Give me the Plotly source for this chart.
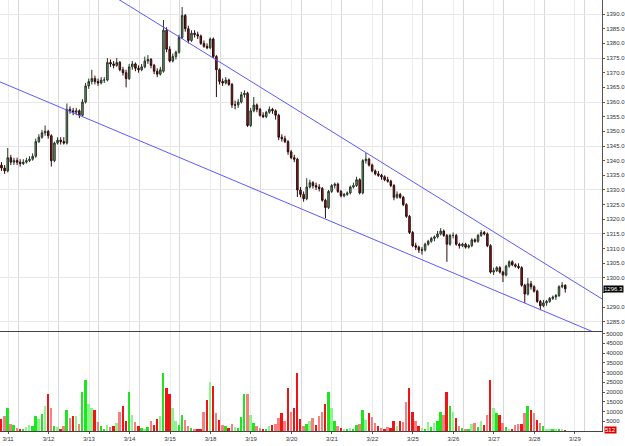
import plotly.graph_objects as go

# ---------------- data ----------------
day_labels = ["3/11", "3/12", "3/13", "3/14", "3/15", "3/18", "3/19", "3/20",
              "3/21", "3/22", "3/25", "3/26", "3/27", "3/28", "3/29"]
day_start_bar = [2.1 + 13 * k for k in range(len(day_labels))]

open_ = [1338.5,1337.5,1336.5,1341,1339.5,1340,1339.5,1339,1339.5,1340,1340.5,1341.5,1346.5,1348,1349.5,1350,1348.5,1340,1346,1347,
         1346.5,1346,1357.5,1357,1356.5,1357,1355.5,1360,1365.5,1367,1368,1367,1366.5,1367.5,1367.5,1373.5,1373,1372.5,1373.5,1371,
         1370,1368,1372,1373,1371.5,1371,1372,1374,1374.5,1372.5,1370.5,1369.5,1370.5,1384.5,1378,1374,1375.5,1377,1382,1389.5,
         1385,1381,1383.5,1383,1382.5,1380,1379,1378.5,1381.5,1375.5,1371,1367,1366.5,1367.5,1366,1359,1359,1360,1362.5,1363,
         1352,1357,1359,1357.5,1355.5,1355,1356.5,1357.5,1357,1355.5,1348,1347.5,1346.5,1343,1341,1340.5,1330,1328.5,1327,1331,
         1332.5,1331.5,1331,1330.5,1326.5,1324,1329.5,1331.5,1332,1329.5,1328,1328.5,1329,1331,1331.5,1333.5,1329,1340,1340.5,1338.5,
         1336.5,1335.5,1335,1334.5,1333.5,1333,1331.5,1327.5,1328.5,1327.5,1325,1321,1315.5,1311,1310.5,1309.5,1309.5,1311.5,1312.5,1313.5,
         1314,1315,1316,1314.5,1311.5,1314.5,1314.5,1311.5,1311,1311.5,1310.5,1311,1313,1312.5,1314.5,1315.5,1315,1311,1302,1302.5,
         1303.5,1302,1301,1304,1305.5,1304.5,1304,1303.5,1297.5,1294.5,1298,1297,1295.5,1292,1290.5,1291.5,1292,1293,1293.5,1294,
         1297,1297.5]
high = [1339.5,1338.5,1344.3,1342,1341,1341,1340.5,1340.5,1341,1341.5,1342.5,1347.5,1349,1350.5,1352,1350.5,1349,1346.5,1348,1348,
        1348,1359.5,1358.5,1358,1358,1357.5,1361,1366.5,1368,1371,1369,1368,1368.5,1368.5,1375,1374.5,1374,1375,1374,1372,
        1371,1373,1374,1373.5,1372.5,1373,1375.5,1376,1375,1373,1371.5,1372,1388,1385.5,1379,1376.5,1377.5,1383,1392.4,1390,
        1386,1384.5,1384.5,1384,1383,1381,1380,1382,1382,1376,1371.5,1368,1368.5,1368,1366.5,1360.5,1361,1363.5,1364,1363.5,
        1358,1361.7,1359.5,1358,1356.5,1357,1358.5,1358,1357.5,1356,1349,1348.5,1347,1343.6,1342,1341,1331,1329.5,1334,1333.5,
        1333,1332.5,1332,1331,1327,1330,1332,1332.5,1332.5,1330,1329,1329.5,1331.5,1332.5,1334.5,1334,1340.5,1342.6,1341,1339,
        1337,1336.5,1335.5,1335,1334.5,1333.5,1332,1329.5,1329,1328,1325.5,1321.5,1316,1312,1311,1310.5,1312,1313,1314,1314.5,
        1316,1317,1316.5,1315,1315,1315.5,1315,1312,1312,1312,1311.5,1313.5,1313.5,1315,1316.3,1316,1315.5,1311.5,1303.5,1304,
        1304,1302.5,1304.5,1306,1306,1305,1305,1304,1298,1300,1299,1297.5,1296,1292.5,1292.5,1292.5,1293.5,1294,1294.5,1297.5,
        1298.6,1297.8]
low = [1336.5,1335.5,1336,1338.5,1338.5,1338.5,1338,1338.5,1339,1339.5,1340,1341,1346,1347.5,1348.5,1347.5,1338,1339.5,1345.5,1345.5,
       1345.5,1345.5,1356,1355.5,1355.5,1354.5,1355,1359.5,1364.5,1366,1366,1365.5,1366,1366.5,1367,1372,1371.5,1372,1370.5,1369,
       1365,1367.5,1371,1370.5,1370,1370.5,1371.5,1373,1371.5,1369.5,1368.5,1369,1370,1377,1373.5,1373.5,1374.5,1376.5,1381.5,1384,
       1380,1380.5,1382,1381.5,1379.5,1378.5,1378,1378,1375,1361.7,1366,1365.5,1366,1365.5,1358,1357.5,1358,1359.5,1361.5,1351.5,
       1351.5,1356.5,1356.5,1355,1354.5,1354.5,1356,1356,1354,1347,1346.5,1346,1342,1340.5,1339.5,1327.6,1327.5,1326,1326.5,1330.5,
       1330.5,1330,1329.5,1326,1320.4,1323.5,1329,1330.5,1329,1327.5,1327.5,1328,1328.5,1330.5,1331,1328.5,1328.5,1339,1338,1336,
       1335,1334.5,1333.5,1333,1332.5,1331,1326.5,1327,1327,1324.5,1320.5,1315,1310.5,1309.5,1308.5,1308,1309,1311,1312,1312.5,
       1313.5,1314.5,1314,1305.5,1311,1313.5,1311,1310,1310.5,1310,1310,1310.5,1312,1312,1314,1314.5,1310.5,1301.5,1301,1302,
       1301.5,1298.6,1300.5,1303.5,1304,1303.5,1303,1297,1291.5,1294,1296,1295,1291.5,1289,1290,1290.5,1291.5,1292.5,1292.5,1293.5,
       1296.5,1295]
close = [1337.5,1336.5,1341,1339.5,1340,1339.5,1339,1339.5,1340,1340.5,1341.5,1346.5,1348,1349.5,1350,1348.5,1340,1346,1347,1346.5,
         1346,1357.5,1357,1356.5,1357,1355.5,1360,1365.5,1367,1368,1367,1366.5,1367.5,1367.5,1373.5,1373,1372.5,1373.5,1371,1370,
         1368,1372,1373,1371.5,1371,1372,1374,1374.5,1372.5,1370.5,1369.5,1371,1384.5,1378,1374,1375.5,1377,1382,1389.5,1385,
         1381,1383.5,1383,1382.5,1380,1379,1378.5,1381.5,1375.5,1371,1367,1366.5,1367.5,1366,1359,1359,1360,1362.5,1363,1352,
         1357,1359,1357.5,1355.5,1355,1356.5,1357.5,1357,1355.5,1348,1347.5,1346.5,1343,1341,1340.5,1330,1328.5,1327,1331,1332.5,
         1331.5,1331,1330.5,1326.5,1324,1329.5,1331.5,1332,1329.5,1328,1328.5,1329,1331,1331.5,1333.5,1329,1340,1340.5,1338.5,1336.5,
         1335.5,1335,1334.5,1333.5,1333,1331.5,1327.5,1328.5,1327.5,1325,1321,1315.5,1311,1310.5,1309.5,1309.5,1311.5,1312.5,1313.5,1314,
         1315,1316,1314.5,1311.5,1314.5,1314.5,1311.5,1311,1311.5,1310.5,1311,1313,1312.5,1314.5,1315.5,1315,1311,1302,1302.5,1303.5,
         1302,1301,1304,1305.5,1304.5,1304,1303.5,1297.5,1294.5,1298,1297,1295.5,1292,1290.5,1291.5,1292,1293,1293.5,1294,1297,
         1297.5,1296.3]
volume = [6000,7500,12000,3500,3000,1500,1000,800,1800,3000,2500,7800,6000,8500,13000,19000,12000,2500,2000,800,
          2500,11000,6500,7500,7500,3500,20000,26000,14000,12000,11000,4500,2500,1200,3000,2000,2500,4000,10000,13000,
          5000,20000,8000,4500,2500,1500,1200,2000,5000,3000,6000,7500,30000,22000,19000,12000,5000,3000,8000,5500,
          2500,1500,1000,1200,1000,10000,16000,25000,23000,9000,5500,3000,2500,1500,3500,2000,1500,7000,19000,19000,
          8000,4000,2500,1500,1200,1000,2500,3000,3500,6500,9000,5000,22000,10000,12000,30000,6000,2500,3500,5000,
          6500,3000,7800,10000,14000,20000,12000,5000,2500,1500,1200,1000,1500,1200,3000,3500,11000,5500,9000,7000,
          4000,2500,1500,1000,2000,1500,5000,2500,5000,4500,15000,22000,10000,5000,2500,1500,1000,4500,2000,4000,
          5000,10000,8000,20000,13000,10000,6500,2500,1500,1000,800,3500,4000,2000,5000,3000,8000,26000,12000,9000,
          8000,4000,2000,1200,800,3000,3500,3500,9000,13000,11000,9000,5500,4000,2500,1200,800,700,900,800,
          600,512]
vol_light = [0,1,0,1,0,1,0,0,1,1,0,0,1,0,1,0,1,0,1,0,1,0,1,0,1,1,0,0,1,1,0,1,0,0,1,1,0,1,1,0,
             0,0,1,1,0,0,1,0,1,0,0,1,0,0,0,1,1,0,0,1,1,0,1,0,0,1,0,1,0,1,0,1,0,0,1,1,0,0,0,1,
             1,0,1,1,0,0,1,0,1,1,0,1,0,1,0,0,0,1,0,1,1,0,1,1,0,0,1,0,1,0,1,0,1,0,0,1,0,1,0,1,
             1,0,1,0,1,0,0,1,0,1,1,0,0,1,0,1,0,1,0,1,0,0,1,0,0,1,0,1,0,1,0,1,1,0,1,0,1,0,1,0,
             0,1,0,1,0,1,1,0,1,0,0,1,0,1,0,1,1,0,1,0,1,0]

# trend line anchor points (bar index, price)
upper_x = [20.0, 200.0]
upper_y = [1406.6, 1288.1]
lower_x = [-5.0, 200.0]
lower_y = [1368.9, 1277.1]

last_price = 1296.3
last_volume = 512

# ---------------- figure ----------------
n = len(close)
bars = list(range(n))

vcolors = []
for o, c, lt in zip(open_, close, vol_light):
    up = c >= o
    if up:
        vcolors.append("#8cf58c" if lt else "#1ee61e")
    else:
        vcolors.append("#f77f7f" if lt else "#f01414")

fig = go.Figure()
fig.add_trace(go.Candlestick(
    x=bars, open=open_, high=high, low=low, close=close,
    increasing=dict(fillcolor="#739f73", line=dict(color="#263626", width=1)),
    decreasing=dict(fillcolor="#921f1f", line=dict(color="#2e0a0a", width=1)),
    whiskerwidth=0, xaxis="x", yaxis="y", showlegend=False, hoverinfo="skip"))

fig.add_trace(go.Scatter(x=upper_x, y=upper_y, mode="lines",
                         line=dict(color="#5a5aff", width=1), xaxis="x", yaxis="y",
                         showlegend=False, hoverinfo="skip"))
fig.add_trace(go.Scatter(x=lower_x, y=lower_y, mode="lines",
                         line=dict(color="#5a5aff", width=1), xaxis="x", yaxis="y",
                         showlegend=False, hoverinfo="skip"))

fig.add_trace(go.Bar(x=bars, y=volume, marker=dict(color=vcolors, line=dict(width=0)),
                     width=0.62, xaxis="x2", yaxis="y2", showlegend=False, hoverinfo="skip"))

xr = [-0.48, 192.8]
grid_minor = [v + 3.2 for v in day_start_bar]
price_ticks = [1285 + 5 * k for k in range(22)]
# the 1295.0 label sits behind the last-price box in the reference
price_text = ["" if abs(v - last_price) < 2.5 else f"{v:.1f}" for v in price_ticks]
price_grid = [1285 + 15 * k for k in range(8)]
vol_ticks = [5000 * k for k in range(1, 11)]

tick_font = dict(family="Liberation Sans, Arial, sans-serif", size=6, color="#333333")

fig.update_layout(
    width=625, height=446,
    margin=dict(l=0, r=23, t=0, b=15),
    paper_bgcolor="white", plot_bgcolor="white",
    bargap=0,
    xaxis=dict(domain=[0, 1], anchor="y", range=xr, rangeslider=dict(visible=False),
               tickmode="array", tickvals=day_start_bar, showticklabels=False, ticks="",
               showgrid=True, gridcolor="#ececec", gridwidth=1, zeroline=False,
               minor=dict(tickmode="array", tickvals=grid_minor, showgrid=True,
                          gridcolor="#d8d8d8", gridwidth=1, ticks=""),
               showline=True, linecolor="#444444", linewidth=1, automargin=False),
    xaxis2=dict(domain=[0, 1], anchor="y2", range=xr, matches="x",
                tickmode="array", tickvals=day_start_bar, ticktext=day_labels,
                tickfont=tick_font, ticks="outside", ticklen=2, tickcolor="#555555",
                showgrid=True, gridcolor="#ececec", zeroline=False,
                minor=dict(tickmode="array", tickvals=grid_minor, showgrid=True,
                           gridcolor="#d8d8d8", gridwidth=1, ticks=""),
                showline=True, linecolor="#444444", linewidth=1, automargin=False),
    yaxis=dict(domain=[0.232, 1], anchor="x", side="right", range=[1281.9, 1394.8],
               tickmode="array", tickvals=price_ticks, ticktext=price_text,
               tickfont=tick_font, ticks="outside", ticklen=2, tickcolor="#555555",
               showgrid=False, zeroline=False,
               minor=dict(tickmode="array", tickvals=price_grid, showgrid=True,
                          gridcolor="#e6e6e6", gridwidth=1, ticks=""),
               showline=True, linecolor="#555555", linewidth=1, automargin=False),
    yaxis2=dict(domain=[0, 0.2297], anchor="x2", side="right", range=[0, 50800],
                tickmode="array", tickvals=vol_ticks, ticktext=[str(v) for v in vol_ticks],
                tickfont=tick_font, ticks="outside", ticklen=2, tickcolor="#555555",
                showgrid=False, zeroline=False,
                showline=True, linecolor="#555555", linewidth=1, automargin=False),
)

fig.add_annotation(x=1, xref="paper", xanchor="left", xshift=1, y=last_price, yref="y",
                   text=f"{last_price:.1f}", showarrow=False, bgcolor="#000000",
                   font=dict(family="Liberation Sans, Arial, sans-serif", size=6, color="white"),
                   borderpad=0)
fig.add_annotation(x=1, xref="paper", xanchor="left", xshift=2, y=last_volume, yref="y2",
                   text=str(last_volume), showarrow=False, bgcolor="#e00000",
                   font=dict(family="Liberation Sans, Arial, sans-serif", size=6, color="white"),
                   borderpad=0)

fig.write_html("out.html")
